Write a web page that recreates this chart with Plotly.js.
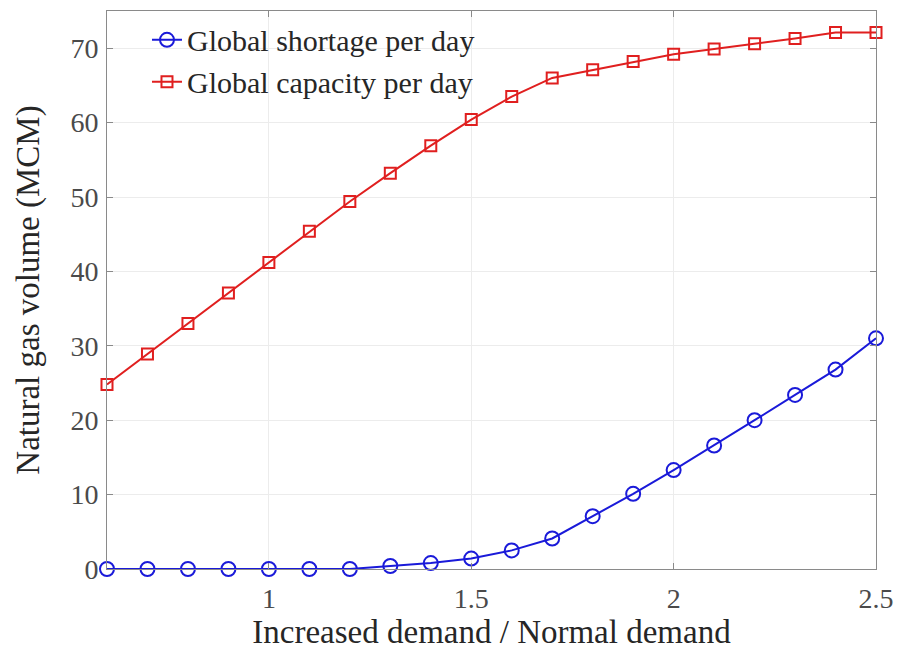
<!DOCTYPE html>
<html><head><meta charset="utf-8">
<script src="https://cdn.plot.ly/plotly-3.0.1.min.js"></script>
<style>html,body{margin:0;padding:0;background:#fff}#chart{width:898px;height:652px}</style>
</head><body><div id="chart"></div>
<script>
const demandRatio = [0.6,0.7,0.8,0.9,1.0,1.1,1.2,1.3,1.4,1.5,1.6,1.7,1.8,1.9,2.0,2.1,2.2,2.3,2.4,2.5];
const shortagePerDay = [0,0,0,0,0,0,0,0.4,0.8,1.4,2.5,4.1,7.1,10.1,13.3,16.6,20.0,23.4,26.8,31.0];
const capacityPerDay = [24.8,28.9,33.0,37.1,41.2,45.4,49.4,53.2,56.9,60.4,63.5,66.0,67.1,68.2,69.2,69.9,70.6,71.3,72.1,72.1];
const xTicks = [1,1.5,2,2.5];
const xTickLabels = ['1','1.5','2','2.5'];
const yTicks = [0,10,20,30,40,50,60,70];

const font = 'Liberation Serif, Times New Roman, serif';
const traces = [
  {x: demandRatio, y: shortagePerDay, name: 'Global shortage per day', mode: 'lines+markers',
   cliponaxis: false,
   line: {color: '#1a1ad9', width: 2},
   marker: {symbol: 'circle-open', size: 14, color: '#1a1ad9', line: {width: 2}}},
  {x: demandRatio, y: capacityPerDay, name: 'Global capacity per day', mode: 'lines+markers',
   cliponaxis: false,
   line: {color: '#e01f1f', width: 2},
   marker: {symbol: 'square-open', size: 11, color: '#e01f1f', line: {width: 2}}}
];
const axisCommon = {
  showline: true, linecolor: '#8a8a8a', linewidth: 1, mirror: 'ticks',
  ticks: 'inside', ticklen: 6, tickcolor: '#8a8a8a',
  showgrid: true, gridcolor: '#ececec', zeroline: false,
  tickfont: {family: font, size: 28, color: '#4a4a4a'}
};
const layout = {
  width: 898, height: 652,
  margin: {l: 107, r: 22, t: 11, b: 83},
  paper_bgcolor: '#fff', plot_bgcolor: '#fff',
  showlegend: true,
  legend: {x: 0.052, y: 0.995, xanchor: 'left', yanchor: 'top', bgcolor: 'rgba(255,255,255,0)',
    font: {family: font, size: 30, color: '#262626'}, tracegroupgap: 0, itemwidth: 30},
  xaxis: Object.assign({}, axisCommon, {range: [0.6, 2.5], tickvals: xTicks, ticktext: xTickLabels,
    ticklabelstandoff: 4,
    title: {text: 'Increased demand / Normal demand', font: {family: font, size: 33, color: '#262626'}, standoff: 2}}),
  yaxis: Object.assign({}, axisCommon, {range: [0, 75], tickvals: yTicks,
    ticklabelstandoff: 2,
    title: {text: 'Natural gas volume (MCM)', font: {family: font, size: 33, color: '#262626'}, standoff: 20}})
};
Plotly.newPlot('chart', traces, layout, {displayModeBar: false, staticPlot: true});
</script></body></html>
